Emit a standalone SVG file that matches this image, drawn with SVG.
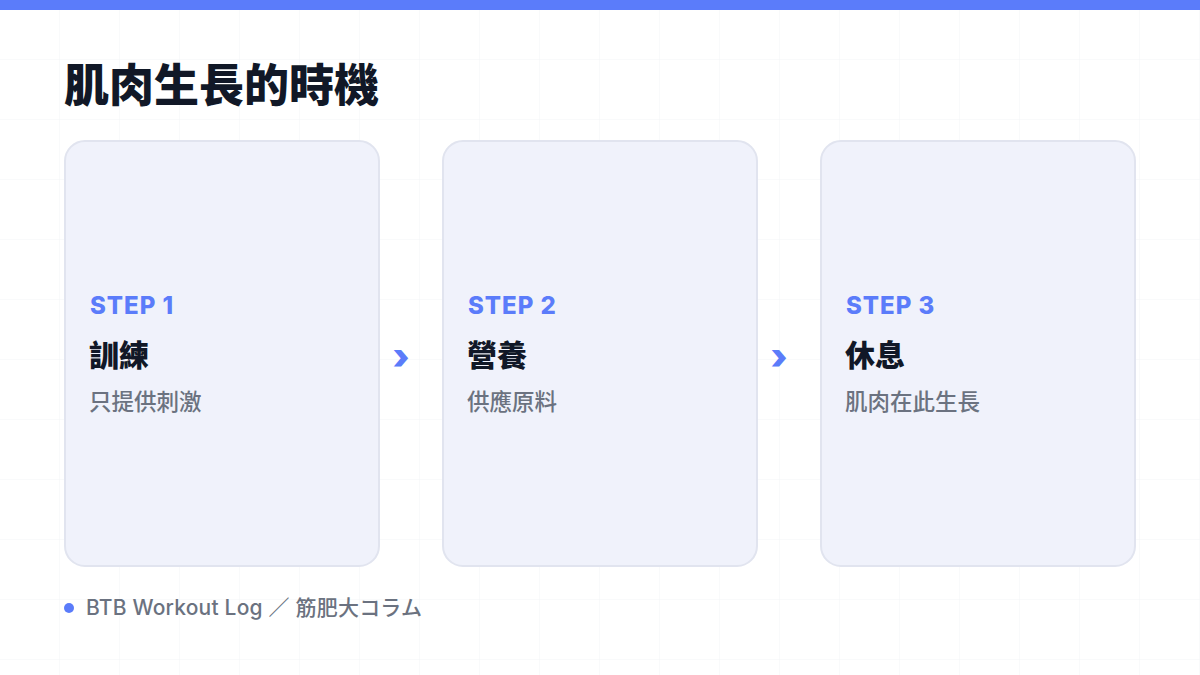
<svg xmlns="http://www.w3.org/2000/svg" width="1200" height="675" viewBox="0 0 1200 675">
<defs>
<pattern id="grid" width="60" height="60" patternUnits="userSpaceOnUse">
<path d="M60 0V60M0 60H60" fill="none" stroke="#f3f4f7" stroke-width="1"/>
</pattern>
</defs>
<style>
.card{fill:#f0f2fb;stroke:#e1e4ef;stroke-width:2}
.step{font-family:Inter,"Noto Sans",sans-serif;font-weight:800;font-size:24px;fill:#5b7cfa;letter-spacing:1px}
.head{font-family:"Noto Sans CJK TC","Noto Sans CJK JP",sans-serif;font-weight:900;font-size:30px;fill:#111827}
.desc{font-family:"Noto Sans CJK TC","Noto Sans CJK JP",sans-serif;font-weight:500;font-size:22.5px;fill:#6b7280}
.chev{font-family:Inter,"Noto Sans",sans-serif;font-weight:900;font-size:36px;fill:#5b7cfa}
</style>
<rect width="1200" height="675" fill="#ffffff"/>
<rect width="1200" height="675" fill="url(#grid)"/>
<rect x="0" y="0" width="1200" height="10" fill="#5b7cfa"/>
<text x="64" y="102" font-family="'Noto Sans CJK TC','Noto Sans CJK JP',sans-serif" font-weight="900" font-size="45" fill="#111827">肌肉生長的時機</text>
<g id="step1">
<rect class="card" x="65" y="141" width="314" height="425" rx="20"/>
<text class="step" x="90" y="314">STEP 1</text>
<text class="head" x="89" y="366">訓練</text>
<text class="desc" x="89" y="410">只提供刺激</text>
</g>
<g id="step2">
<rect class="card" x="443" y="141" width="314" height="425" rx="20"/>
<text class="step" x="468" y="314">STEP 2</text>
<text class="head" x="467" y="366">營養</text>
<text class="desc" x="467" y="410">供應原料</text>
</g>
<g id="step3">
<rect class="card" x="821" y="141" width="314" height="425" rx="20"/>
<text class="step" x="846" y="314">STEP 3</text>
<text class="head" x="845" y="366">休息</text>
<text class="desc" x="845" y="410">肌肉在此生長</text>
</g>
<g id="connectors">
<text class="chev" x="401" y="369" text-anchor="middle">›</text>
<text class="chev" x="779" y="369" text-anchor="middle">›</text>
</g>
<g id="footer">
<circle cx="69" cy="608" r="5" fill="#5b7cfa"/>
<text x="86" y="615" font-family="Inter,'Noto Sans CJK JP',sans-serif" font-weight="500" font-size="21" letter-spacing="0.2" fill="#6b7280">BTB Workout Log ／ 筋肥大コラム</text>
</g>
</svg>
